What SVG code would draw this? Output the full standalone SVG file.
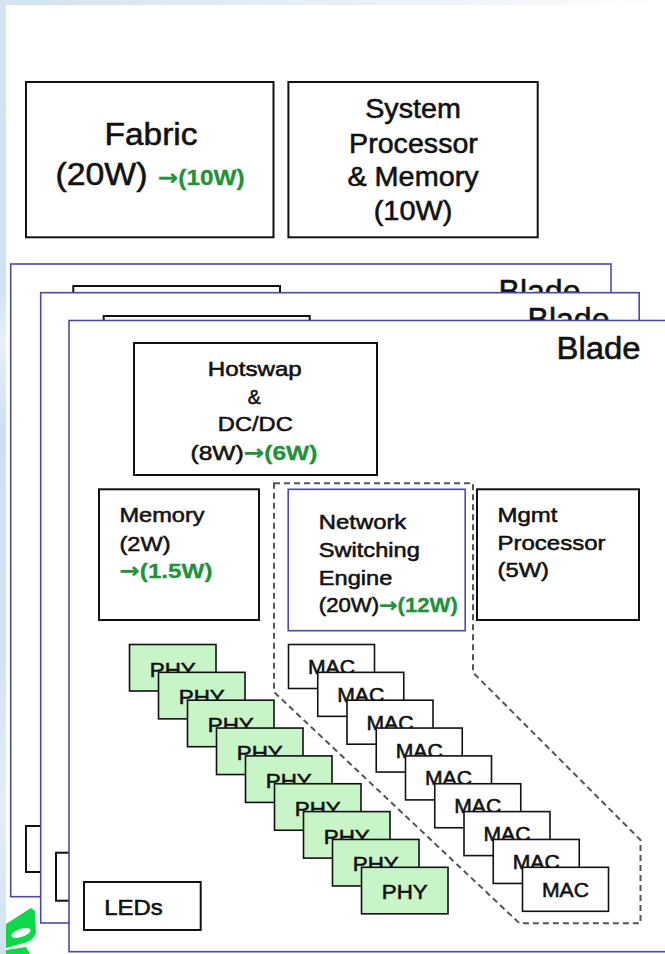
<svg xmlns="http://www.w3.org/2000/svg" width="665" height="954" viewBox="0 0 665 954">
<defs>
<linearGradient id="topg" x1="0" y1="0" x2="1" y2="0">
<stop offset="0" stop-color="#d3e4f0"/>
<stop offset="0.7" stop-color="#eef4f9"/>
<stop offset="1" stop-color="#ffffff"/>
</linearGradient>
<linearGradient id="leftg" x1="0" y1="0" x2="0" y2="1">
<stop offset="0" stop-color="#d4e5f1"/>
<stop offset="0.3" stop-color="#cfe2ef"/>
<stop offset="0.36" stop-color="#e6f0f7"/>
<stop offset="0.45" stop-color="#cde0ee"/>
<stop offset="0.7" stop-color="#d2e4f0"/>
<stop offset="0.85" stop-color="#e4eef6"/>
<stop offset="1" stop-color="#cfe1ee"/>
</linearGradient>
<style>
text{font-family:"Liberation Sans",Arial,"DejaVu Sans",sans-serif;fill:#111;stroke:#111;stroke-width:0.55px;paint-order:stroke}
.g,tspan.g{fill:#22913a;stroke:#22913a;stroke-width:0.3px;font-weight:bold}
.arr{font-family:"DejaVu Sans",sans-serif;font-weight:bold}
.box{fill:#fff;stroke:#111;stroke-width:2}
.blade{fill:#fff;stroke:#4a4aa8;stroke-width:1.6}
.nse{fill:#fff;stroke:#4a4aa8;stroke-width:1.6}
.phy{fill:#c8f5c8;stroke:#111;stroke-width:1.6}
.mac{fill:#fff;stroke:#111;stroke-width:1.6}
.dash{fill:none;stroke:#555;stroke-width:2;stroke-dasharray:6 4}
.f31{font-size:31px}.f27{font-size:27px}.f22{font-size:22px}.f21{font-size:21px}.f20{font-size:20px}
</style>
</defs>
<rect x="0" y="0" width="665" height="954" fill="#fff"/>
<rect x="0" y="0" width="665" height="5" fill="url(#topg)"/>
<rect x="0" y="0" width="6" height="954" fill="url(#leftg)"/>

<g id="fabric">
<rect class="box" x="26" y="82" width="247.5" height="155.3"/>
<text class="f31" x="104.5" y="145" textLength="93" lengthAdjust="spacingAndGlyphs">Fabric</text>
<text class="f31" x="55.5" y="184.5" textLength="92" lengthAdjust="spacingAndGlyphs">(20W)</text>
<text class="g f22" x="158" y="185" textLength="86.5" lengthAdjust="spacingAndGlyphs"><tspan class="arr">→</tspan>(10W)</text>
</g>

<g id="system-processor">
<rect class="box" x="288.4" y="82" width="249.3" height="155.3"/>
<text class="f27" x="365.2" y="118.3" textLength="95.7" lengthAdjust="spacingAndGlyphs">System</text>
<text class="f27" x="349.1" y="152.7" textLength="128.8" lengthAdjust="spacingAndGlyphs">Processor</text>
<text class="f27" x="347.4" y="186" textLength="131.3" lengthAdjust="spacingAndGlyphs">&amp; Memory</text>
<text class="f27" x="373.7" y="219.5" textLength="78.7" lengthAdjust="spacingAndGlyphs">(10W)</text>
</g>

<g id="blade-back-1">
<rect class="blade" x="10.7" y="264" width="600.3" height="632.7"/>
<rect class="box" x="73.3" y="286" width="206.7" height="100"/>
<rect class="box" x="26" y="826" width="116" height="46"/>
<text class="f31" x="498.5" y="301.5" textLength="82" lengthAdjust="spacingAndGlyphs">Blade</text>
</g>

<g id="blade-back-2">
<rect class="blade" x="40.7" y="292.7" width="598.5" height="630.3"/>
<rect class="box" x="103.7" y="316" width="206" height="100"/>
<rect class="box" x="56" y="852.7" width="116" height="48"/>
<text class="f31" x="527.5" y="330.3" textLength="82" lengthAdjust="spacingAndGlyphs">Blade</text>
</g>

<g id="blade">
<rect class="blade" x="69" y="320.5" width="600" height="631.2"/>
<text class="f31" x="556.5" y="359" textLength="84" lengthAdjust="spacingAndGlyphs">Blade</text>
</g>

<g id="connectors">
<path id="nse-region" class="dash" d="M274,483.3 L473,483.3 L473,672.5 L640.5,840 L640.5,923.3 L519.5,923.3 L274,692 Z"/>
</g>

<g id="hotswap">
<rect class="box" x="134" y="343" width="243" height="132"/>
<text class="f21" x="207.8" y="375.5" textLength="94" lengthAdjust="spacingAndGlyphs">Hotswap</text>
<text class="f21" x="247.8" y="403.5" textLength="13" lengthAdjust="spacingAndGlyphs">&amp;</text>
<text class="f21" x="217.8" y="431" textLength="75" lengthAdjust="spacingAndGlyphs">DC/DC</text>
<text class="f21" x="190.5" y="459.5" textLength="127" lengthAdjust="spacingAndGlyphs">(8W)<tspan class="g"><tspan class="arr">→</tspan>(6W)</tspan></text>
</g>

<g id="memory">
<rect class="box" x="99" y="489.3" width="160" height="130.7"/>
<text class="f21" x="119.5" y="522.3" textLength="85" lengthAdjust="spacingAndGlyphs">Memory</text>
<text class="f21" x="119.5" y="550.5" textLength="51" lengthAdjust="spacingAndGlyphs">(2W)</text>
<text class="g f21" x="119.5" y="578" textLength="93" lengthAdjust="spacingAndGlyphs"><tspan class="arr">→</tspan>(1.5W)</text>
</g>

<g id="network-switching-engine">
<rect class="nse" x="288.2" y="489.3" width="177" height="141.4"/>
<text class="f21" x="318.8" y="529" textLength="87.5" lengthAdjust="spacingAndGlyphs">Network</text>
<text class="f21" x="318.8" y="556.5" textLength="101" lengthAdjust="spacingAndGlyphs">Switching</text>
<text class="f21" x="318.8" y="585" textLength="73.5" lengthAdjust="spacingAndGlyphs">Engine</text>
<text class="f20" x="318.8" y="611.5" textLength="139" lengthAdjust="spacingAndGlyphs">(20W)<tspan class="g"><tspan class="arr">→</tspan>(12W)</tspan></text>
</g>

<g id="mgmt-processor">
<rect class="box" x="477" y="489.3" width="162" height="130.7"/>
<text class="f21" x="497.5" y="521.7" textLength="60" lengthAdjust="spacingAndGlyphs">Mgmt</text>
<text class="f21" x="497.5" y="550" textLength="108" lengthAdjust="spacingAndGlyphs">Processor</text>
<text class="f21" x="497.5" y="577.3" textLength="51.5" lengthAdjust="spacingAndGlyphs">(5W)</text>
</g>

<g id="phy-1"><rect class="phy" x="129.5" y="644.5" width="86.5" height="46.5"/><text class="f21" x="149.8" y="676.5" textLength="46" lengthAdjust="spacingAndGlyphs">PHY</text></g>
<g id="phy-2"><rect class="phy" x="158.5" y="672.35" width="86.5" height="46.5"/><text class="f21" x="178.8" y="704.35" textLength="46" lengthAdjust="spacingAndGlyphs">PHY</text></g>
<g id="phy-3"><rect class="phy" x="187.5" y="700.2" width="86.5" height="46.5"/><text class="f21" x="207.8" y="732.2" textLength="46" lengthAdjust="spacingAndGlyphs">PHY</text></g>
<g id="phy-4"><rect class="phy" x="216.5" y="728.05" width="86.5" height="46.5"/><text class="f21" x="236.8" y="760.05" textLength="46" lengthAdjust="spacingAndGlyphs">PHY</text></g>
<g id="phy-5"><rect class="phy" x="245.5" y="755.9" width="86.5" height="46.5"/><text class="f21" x="265.8" y="787.9" textLength="46" lengthAdjust="spacingAndGlyphs">PHY</text></g>
<g id="phy-6"><rect class="phy" x="274.5" y="783.75" width="86.5" height="46.5"/><text class="f21" x="294.8" y="815.75" textLength="46" lengthAdjust="spacingAndGlyphs">PHY</text></g>
<g id="phy-7"><rect class="phy" x="303.5" y="811.6" width="86.5" height="46.5"/><text class="f21" x="323.8" y="843.6" textLength="46" lengthAdjust="spacingAndGlyphs">PHY</text></g>
<g id="phy-8"><rect class="phy" x="332.5" y="839.45" width="86.5" height="46.5"/><text class="f21" x="352.8" y="871.45" textLength="46" lengthAdjust="spacingAndGlyphs">PHY</text></g>
<g id="phy-9"><rect class="phy" x="361.5" y="867.3" width="86.5" height="46.5"/><text class="f21" x="381.8" y="899.3" textLength="46" lengthAdjust="spacingAndGlyphs">PHY</text></g>

<g id="mac-1"><rect class="mac" x="288.5" y="644.5" width="86" height="44"/><text class="f20" x="308" y="674" textLength="47" lengthAdjust="spacingAndGlyphs">MAC</text></g>
<g id="mac-2"><rect class="mac" x="317.75" y="672.35" width="86" height="44"/><text class="f20" x="337.25" y="701.85" textLength="47" lengthAdjust="spacingAndGlyphs">MAC</text></g>
<g id="mac-3"><rect class="mac" x="347" y="700.2" width="86" height="44"/><text class="f20" x="366.5" y="729.7" textLength="47" lengthAdjust="spacingAndGlyphs">MAC</text></g>
<g id="mac-4"><rect class="mac" x="376.25" y="728.05" width="86" height="44"/><text class="f20" x="395.75" y="757.55" textLength="47" lengthAdjust="spacingAndGlyphs">MAC</text></g>
<g id="mac-5"><rect class="mac" x="405.5" y="755.9" width="86" height="44"/><text class="f20" x="425" y="785.4" textLength="47" lengthAdjust="spacingAndGlyphs">MAC</text></g>
<g id="mac-6"><rect class="mac" x="434.75" y="783.75" width="86" height="44"/><text class="f20" x="454.25" y="813.25" textLength="47" lengthAdjust="spacingAndGlyphs">MAC</text></g>
<g id="mac-7"><rect class="mac" x="464" y="811.6" width="86" height="44"/><text class="f20" x="483.5" y="841.1" textLength="47" lengthAdjust="spacingAndGlyphs">MAC</text></g>
<g id="mac-8"><rect class="mac" x="493.25" y="839.45" width="86" height="44"/><text class="f20" x="512.75" y="868.95" textLength="47" lengthAdjust="spacingAndGlyphs">MAC</text></g>
<g id="mac-9"><rect class="mac" x="522.5" y="867.3" width="86" height="44"/><text class="f20" x="542" y="896.8" textLength="47" lengthAdjust="spacingAndGlyphs">MAC</text></g>

<g id="leds">
<rect class="box" x="84" y="882" width="116.7" height="48"/>
<text class="f22" x="104.3" y="915" textLength="58.5" lengthAdjust="spacingAndGlyphs">LEDs</text>
</g>

<g id="logo-fragment">
<path d="M6,924 L31,908 L35,911 L36,933 Q33,941 24,943 L6,948 Z" fill="#0ed84a"/>
<ellipse cx="21" cy="933" rx="10" ry="4" transform="rotate(-18 21 933)" fill="#fff"/>
<path d="M6,950 L26,947 L30,954 L6,954 Z" fill="#0ed84a"/>
</g>
</svg>
